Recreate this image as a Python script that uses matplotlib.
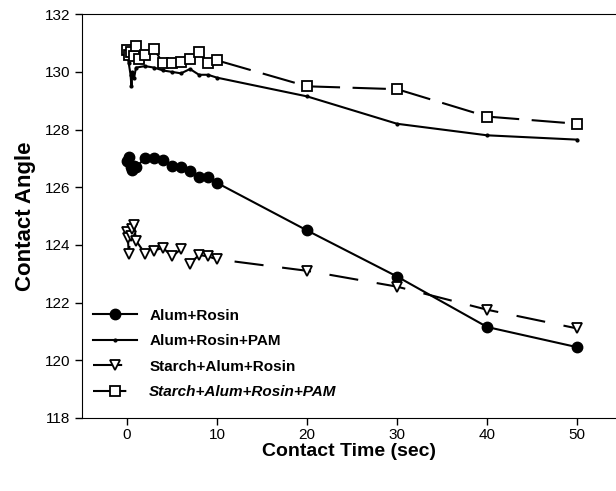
import matplotlib.pyplot as plt

plt.rcParams['font.family'] = ['Liberation Sans', 'DejaVu Sans']

# Alum+Rosin
t_ar = [0, 0.2, 0.4, 0.6, 0.8, 1, 2, 3, 4, 5, 6, 7, 8, 9, 10, 20, 30, 40, 50]
v_ar = [126.9, 127.05, 126.7, 126.6, 126.75, 126.7, 127.0, 127.0, 126.95, 126.75,
        126.7, 126.55, 126.35, 126.35, 126.15, 124.5, 122.9, 121.15, 120.45]

# Alum+Rosin+PAM
t_arp = [0, 0.2, 0.4, 0.5, 0.6, 0.8, 1, 2, 3, 4, 5, 6, 7, 8, 9, 10, 20, 30, 40, 50]
v_arp = [130.6, 130.3, 129.9, 129.5, 130.0, 129.8, 130.15, 130.2, 130.15, 130.05,
         130.0, 129.95, 130.1, 129.9, 129.9, 129.8, 129.15, 128.2, 127.8, 127.65]

# Starch+Alum+Rosin
t_sar = [0, 0.1, 0.2, 0.4, 0.6, 0.8, 1, 2, 3, 4, 5, 6, 7, 8, 9, 10, 20, 30, 40, 50]
v_sar = [124.45, 124.25, 123.7, 124.3, 124.55, 124.7, 124.15, 123.7, 123.8, 123.9,
         123.6, 123.85, 123.35, 123.65, 123.6, 123.5, 123.1, 122.55, 121.75, 121.1]

# Starch+Alum+Rosin+PAM
t_sarp = [0, 0.2, 0.5, 0.8, 1, 1.3, 2, 3, 4, 5, 6, 7, 8, 9, 10, 20, 30, 40, 50]
v_sarp = [130.75, 130.6, 130.7, 130.55, 130.9, 130.45, 130.6, 130.8, 130.3, 130.3,
          130.35, 130.45, 130.7, 130.3, 130.4, 129.5, 129.4, 128.45, 128.2]

fig = plt.figure(figsize=(6.16, 4.91), dpi=100)
ax = fig.add_axes([0.133, 0.149, 0.867, 0.822])

ax.plot(t_ar, v_ar, color='black', lw=1.5, marker='o', ms=7.5,
        label='Alum+Rosin')
ax.plot(t_arp, v_arp, color='black', lw=1.5, marker='.', ms=4,
        label='Alum+Rosin+PAM')
ax.plot(t_sar, v_sar, color='black', lw=1.5, ls=(0, (14, 9)), marker='v', ms=7,
        mfc='white', mew=1.3, label='Starch+Alum+Rosin')
ax.plot(t_sarp, v_sarp, color='black', lw=1.5, ls=(0, (16, 6)), marker='s', ms=7.5,
        mfc='white', mew=1.3, label='Starch+Alum+Rosin+PAM')

ax.set_xlim(-5, 54.3)
ax.set_ylim(118, 132)
ax.set_xticks([0, 10, 20, 30, 40, 50])
ax.set_yticks([118, 120, 122, 124, 126, 128, 130, 132])
ax.tick_params(direction='out', length=5, width=1, labelsize=11,
               top=False, right=False)
ax.tick_params(axis='x', pad=2)
ax.spines['right'].set_visible(False)

ax.set_xlabel('Contact Time (sec)', fontsize=14, fontweight='bold', labelpad=1)
ax.set_ylabel('Contact Angle', fontsize=16, fontweight='bold', labelpad=6)

leg = ax.legend(loc='lower left', bbox_to_anchor=(0.0, 0.02), frameon=False,
                prop={'weight': 'bold', 'size': 11}, handlelength=2.9,
                labelspacing=0.75, borderaxespad=0.3)
leg.get_texts()[3].set_style('italic')

fig.savefig('out.png', dpi=100)
